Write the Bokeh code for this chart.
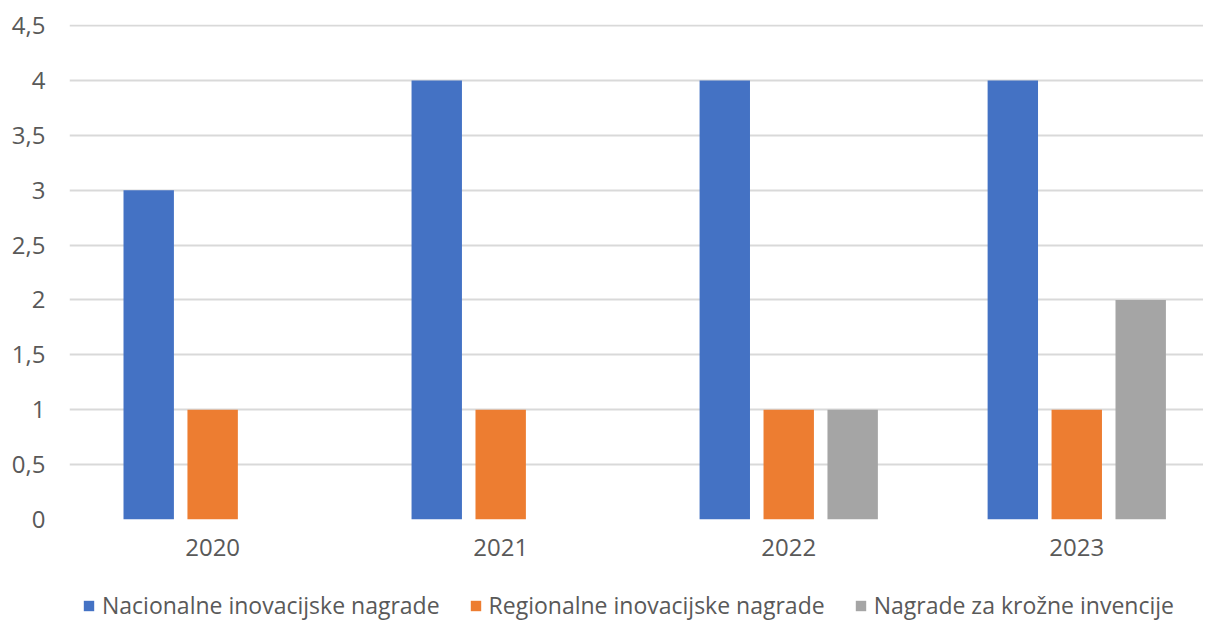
from bokeh.plotting import figure
from bokeh.layouts import column
from bokeh.models import ColumnDataSource, Range1d, FixedTicker, Legend, LegendItem
from bokeh.transform import dodge
from bokeh.embed import file_html
from bokeh.resources import INLINE

categories = ["2020", "2021", "2022", "2023"]
nacionalne = [3, 4, 4, 4]
regionalne = [1, 1, 1, 1]
kruzne = [0, 0, 1, 2]
series_names = ["Nacionalne inovacijske nagrade", "Regionalne inovacijske nagrade", "Nagrade za krožne invencije"]
y_ticks = [0, 0.5, 1, 1.5, 2, 2.5, 3, 3.5, 4, 4.5]
y_tick_labels = ["0", "0,5", "1", "1,5", "2", "2,5", "3", "3,5", "4", "4,5"]

colors = ["#4472C4", "#ED7D31", "#A5A5A5"]
FONT = "Open Sans"
TXT = "#595959"

xs = list(range(len(categories)))
src = ColumnDataSource(dict(x=xs, a=nacionalne, b=regionalne, c=kruzne))
cols = ["a", "b", "c"]

p = figure(width=1203, height=574, output_backend="svg", toolbar_location=None,
           x_range=Range1d(-0.497, 3.44), y_range=Range1d(0, 4.51),
           min_border_left=69, min_border_right=0, min_border_top=24, min_border_bottom=55)
p.outline_line_color = None
p.background_fill_color = "white"
p.border_fill_color = "white"

bw = 0.175
off = 0.222
offsets = [-off, 0, off]
for c, o, col in zip(cols, offsets, colors):
    p.vbar(x=dodge("x", o, range=p.x_range), top=c, width=bw, source=src,
           fill_color=col, line_color=None)

# axes
p.xaxis.ticker = FixedTicker(ticks=xs)
p.xaxis.major_label_overrides = {i: c for i, c in zip(xs, categories)}
p.yaxis.ticker = FixedTicker(ticks=y_ticks)
p.yaxis.major_label_overrides = {t: l for t, l in zip(y_ticks, y_tick_labels)}
for ax in (p.xaxis, p.yaxis):
    ax.axis_line_color = None
    ax.major_tick_line_color = None
    ax.minor_tick_line_color = None
    ax.major_tick_out = 0
    ax.major_tick_in = 0
    ax.major_label_text_font = FONT
    ax.major_label_text_font_size = "24px"
    ax.major_label_text_color = TXT
p.yaxis.major_label_standoff = 24
p.xaxis.major_label_standoff = 19

p.xgrid.grid_line_color = None
p.ygrid.ticker = FixedTicker(ticks=y_ticks)
p.ygrid.grid_line_color = "#D9D9D9"
p.ygrid.grid_line_width = 2

# legend strip (same series, drawn outside its visible range so only the legend shows)
p2 = figure(width=1203, height=48, output_backend="svg", toolbar_location=None,
            x_range=Range1d(-0.5, 3.5), y_range=Range1d(100, 101),
            min_border_left=0, min_border_right=0, min_border_top=0, min_border_bottom=0)
p2.outline_line_color = None
p2.axis.visible = False
p2.grid.visible = False
p2.border_fill_color = "white"
items = []
for name, c, col in zip(series_names, cols, colors):
    rr = p2.vbar(x="x", top=c, width=bw, source=src, fill_color=col, line_color=None)
    items.append(LegendItem(label=name, renderers=[rr]))

legend = Legend(items=items, orientation="horizontal", location=(13, 1))
legend.border_line_color = None
legend.background_fill_alpha = 0
legend.label_text_font = FONT
legend.label_text_font_size = "23px"
legend.label_text_color = TXT
legend.glyph_width = 13
legend.glyph_height = 13
legend.spacing = 29
legend.label_standoff = 7
legend.padding = 0
legend.margin = 0
p2.add_layout(legend, "center")

open("out.html", "w").write(file_html(column(p, p2, spacing=0), INLINE))
